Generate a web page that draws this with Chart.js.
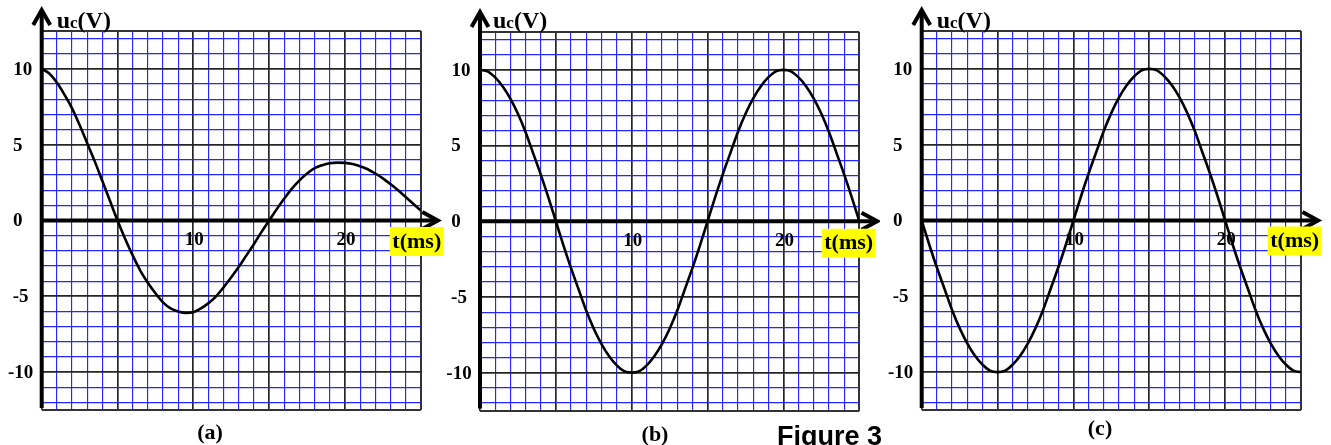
<!DOCTYPE html>
<html><head><meta charset="utf-8">
<script src="https://cdn.jsdelivr.net/npm/chart.js@4/dist/chart.umd.min.js"></script>
<style>
html,body{margin:0;padding:0;background:#fff;width:1331px;height:445px;overflow:hidden;}
.p{position:absolute;top:0;}
#fig{position:absolute;left:777px;top:423px;font:bold 27px "Liberation Sans",Arial,sans-serif;line-height:27px;white-space:nowrap;color:#000;}
</style></head><body>
<div class="p" style="left:0px"><canvas id="ca" width="445" height="445"></canvas></div>
<div class="p" style="left:445px"><canvas id="cb" width="435" height="445"></canvas></div>
<div class="p" style="left:880px"><canvas id="cc" width="451" height="445"></canvas></div>
<div id="fig">Figure 3</div>
<script>
// ---- data ----
const TIME_MS = [0,0.5,1,1.5,2,2.5,3,3.5,4,4.5,5,5.5,6,6.5,7,7.5,8,8.5,9,9.5,10,10.5,11,11.5,12,12.5,
                 13,13.5,14,14.5,15,15.5,16,16.5,17,17.5,18,18.5,19,19.5,20,20.5,21,21.5,22,22.5,23,23.5,24,24.5,25];
const U_A = [10,9.7,9.1,8.3,7.4,6.3,5.1,3.9,2.6,1.3,0,-1.2,-2.3,-3.3,-4.1,-4.8,-5.4,-5.8,-6.0,-6.1,-6.05,-5.8,-5.45,-5.0,-4.4,-3.75,
             -3.05,-2.3,-1.55,-0.75,0,0.75,1.45,2.1,2.65,3.1,3.45,3.65,3.78,3.82,3.8,3.72,3.58,3.38,3.1,2.78,2.4,2.0,1.55,1.1,0.65];
const U_B = [10,9.9,9.5,8.9,8.1,7.1,5.9,4.5,3.1,1.6,0,-1.6,-3.1,-4.5,-5.9,-7.1,-8.1,-8.9,-9.5,-9.9,-10,-9.9,-9.5,-8.9,-8.1,-7.1,
             -5.9,-4.5,-3.1,-1.6,0,1.6,3.1,4.5,5.9,7.1,8.1,8.9,9.5,9.9,10,9.9,9.5,8.9,8.1,7.1,5.9,4.5,3.1,1.6,0];
const U_C = [0,-1.6,-3.1,-4.5,-5.9,-7.1,-8.1,-8.9,-9.5,-9.9,-10,-9.9,-9.5,-8.9,-8.1,-7.1,-5.9,-4.5,-3.1,-1.6,0,1.6,3.1,4.5,5.9,7.1,
             8.1,8.9,9.5,9.9,10,9.9,9.5,8.9,8.1,7.1,5.9,4.5,3.1,1.6,0,-1.6,-3.1,-4.5,-5.9,-7.1,-8.1,-8.9,-9.5,-9.9,-10];
const Y_TICK_LABELS = [10,5,0,-5,-10];
const X_TICK_LABELS = [10,20];
const PANEL_LABELS = ['(a)','(b)','(c)'];
const X_MIN = 0, X_MAX = 25, Y_MIN = -12.5, Y_MAX = 12.5;

// ---- styles ----
const SERIF = '"Liberation Serif","Times New Roman",serif';
const Y_LABEL_DX = {'10':-19,'5':-24,'0':-24,'-5':-21,'-10':-21};
const MINOR = '#2626ff', MAJOR = '#262626';

function gridColor(ctx){
  const v = ctx.tick ? ctx.tick.value : 0;
  if (Math.abs(v) === 12.5 || v === 25) return '#333';
  return (v % 5 === 0) ? MAJOR : MINOR;
}
function gridWidth(ctx){
  const v = ctx.tick ? ctx.tick.value : 0;
  if (Math.abs(v) === 12.5 || v === 25) return 2;
  return (v % 5 === 0) ? 1.7 : 1.15;
}

function decor(cfg){
  return {
    id:'decor',
    beforeDatasetsDraw(chart){
      const c = chart.ctx, a = chart.chartArea;
      const x0 = chart.scales.x.getPixelForValue(0);
      const y0 = chart.scales.y.getPixelForValue(0);
      c.save();
      c.strokeStyle = '#000'; c.lineWidth = 4; c.lineJoin = 'miter'; c.lineCap = 'butt';
      const tipY = a.top - cfg.arrowUp;
      c.beginPath(); c.moveTo(x0, a.bottom - 2); c.lineTo(x0, tipY + 1); c.stroke();
      c.beginPath(); c.moveTo(x0 - 8.5, tipY + 15); c.lineTo(x0, tipY); c.lineTo(x0 + 8.5, tipY + 15); c.stroke();
      const tipX = a.right + cfg.arrowRight;
      c.beginPath(); c.moveTo(x0, y0); c.lineTo(tipX - 1, y0); c.stroke();
      c.beginPath(); c.moveTo(tipX - 15.5, y0 - 8.5); c.lineTo(tipX, y0); c.lineTo(tipX - 15.5, y0 + 8.5); c.stroke();
      c.restore();
    },
    afterDraw(chart){
      const c = chart.ctx, a = chart.chartArea;
      const xs = chart.scales.x, ys = chart.scales.y;
      const x0 = xs.getPixelForValue(0), y0 = ys.getPixelForValue(0);
      c.save();
      c.fillStyle = '#000';
      c.font = 'bold 19px ' + SERIF;
      c.textAlign = 'center'; c.textBaseline = 'middle';
      Y_TICK_LABELS.forEach(v => {
        c.fillText(String(v), x0 + Y_LABEL_DX[String(v)], ys.getPixelForValue(v) + 1);
      });
      X_TICK_LABELS.forEach(t => {
        c.fillText(String(t), xs.getPixelForValue(t) + 1, y0 + 20);
      });
      // u_c(V)
      c.textAlign = 'left'; c.textBaseline = 'alphabetic';
      let x = x0 + cfg.titleDx;
      c.font = 'bold 24px ' + SERIF; c.fillText('u', x, 28); x += c.measureText('u').width;
      c.font = 'bold 17px ' + SERIF; c.fillText('c', x, 28); x += c.measureText('c').width;
      c.font = 'bold 24px ' + SERIF; c.fillText('(V)', x, 28);
      // t(ms) box
      const bx = a.right + cfg.boxDx, by = y0 + cfg.boxDy;
      c.fillStyle = '#ffff00'; c.fillRect(bx, by, 54, 29);
      c.fillStyle = '#000'; c.font = 'bold 22px ' + SERIF;
      c.textAlign = 'center'; c.textBaseline = 'middle';
      c.fillText('t(ms)', bx + 27, by + 15);
      // panel label
      c.fillText(cfg.label, cfg.labelX - cfg.canvasLeft, cfg.labelY);
      c.restore();
    }
  };
}

function makeChart(id, values, cfg){
  return new Chart(document.getElementById(id), {
    type:'line',
    data:{datasets:[{
      data: TIME_MS.map((t,i)=>({x:t, y:values[i]})),
      borderColor:'#000', borderWidth:2.6, pointRadius:0,
      cubicInterpolationMode:'monotone', fill:false
    }]},
    options:{
      responsive:false, animation:false, devicePixelRatio:1,
      layout:{padding:{left:cfg.padL, right:cfg.padR, top:cfg.padT, bottom:cfg.padB}},
      plugins:{legend:{display:false}, tooltip:{enabled:false}},
      scales:{
        x:{type:'linear', min:X_MIN, max:X_MAX,
           ticks:{display:false, stepSize:1},
           afterBuildTicks(s){ const t=[]; for(let v=X_MIN; v<=X_MAX; v++) t.push({value:v}); s.ticks=t; },
           grid:{drawTicks:false, color:gridColor, lineWidth:gridWidth},
           border:{display:false}},
        y:{type:'linear', min:Y_MIN, max:Y_MAX,
           ticks:{display:false, stepSize:1},
           afterBuildTicks(s){ const t=[{value:Y_MIN}]; for(let v=Math.ceil(Y_MIN); v<=Math.floor(Y_MAX); v++) t.push({value:v}); t.push({value:Y_MAX}); s.ticks=t; },
           grid:{drawTicks:false, color:gridColor, lineWidth:gridWidth},
           border:{display:false}}
      }
    },
    plugins:[decor(cfg)]
  });
}

makeChart('ca', U_A, {canvasLeft:0, padL:41.7, padR:445-420.8, padT:31, padB:445-410,
  arrowUp:21, arrowRight:17, titleDx:15, boxDx:-31, boxDy:6.5, label:PANEL_LABELS[0], labelX:210, labelY:433});
makeChart('cb', U_B, {canvasLeft:445, padL:480-445, padR:880-859.3, padT:32, padB:445-410.5,
  arrowUp:20, arrowRight:17.7, titleDx:13, boxDx:-37.6, boxDy:7.5, label:PANEL_LABELS[1], labelX:655, labelY:435});
makeChart('cc', U_C, {canvasLeft:880, padL:921.7-880, padR:1331-1301, padT:31, padB:445-410,
  arrowUp:21, arrowRight:17, titleDx:15, boxDx:-33.3, boxDy:6, label:PANEL_LABELS[2], labelX:1100, labelY:429});
</script>
</body></html>
